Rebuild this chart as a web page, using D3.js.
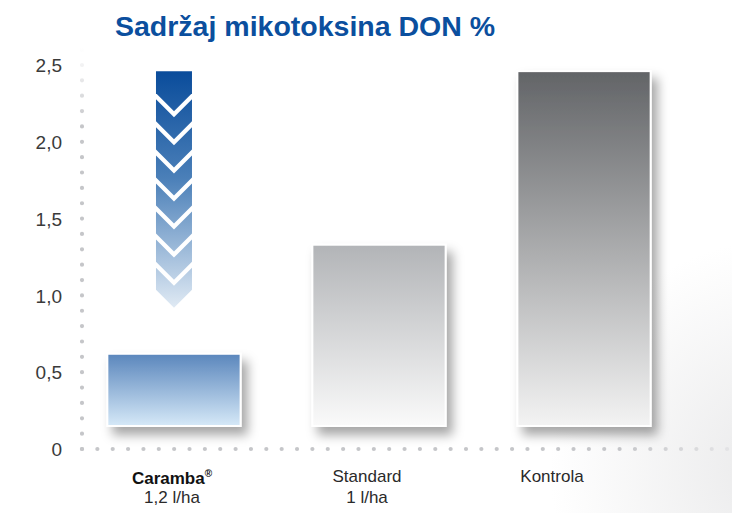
<!DOCTYPE html>
<html>
<head>
<meta charset="utf-8">
<script src="https://cdn.jsdelivr.net/npm/d3@7"></script>
<style>
  html, body { margin: 0; padding: 0; background: #fff; }
  svg { display: block; font-family: "Liberation Sans", Arial, sans-serif; }
</style>
</head>
<body>
<div id="chart"></div>
<script>
const categories = ["Caramba", "Standard", "Kontrola"];
const donValues = [0.62, 1.33, 2.46];
const labelLines = [["Caramba", "1,2 l/ha"], ["Standard", "1 l/ha"], ["Kontrola"]];
const yTicks = [0, 0.5, 1.0, 1.5, 2.0, 2.5];
const yTickLabels = ["0", "0,5", "1,0", "1,5", "2,0", "2,5"];
const barGradients = [
  ["#5a86bc", "#d6e9f8"],
  ["#b2b4b7", "#fafafa"],
  ["#626467", "#f3f3f3"]
];

const width = 732;
const height = 513;
const axisX = 82;
const barLift = 23;

const svg = d3.select("#chart")
  .append("svg")
  .attr("width", width)
  .attr("height", height);

const defs = svg.append("defs");

// soft grey corner in the bottom right
const bg = defs.append("radialGradient")
  .attr("id", "bgGrad")
  .attr("gradientUnits", "userSpaceOnUse")
  .attr("cx", 780).attr("cy", 470).attr("r", 230);
bg.append("stop").attr("offset", "0%").attr("stop-color", "#e9e9ea");
bg.append("stop").attr("offset", "100%").attr("stop-color", "#ffffff");
svg.append("rect").attr("width", width).attr("height", height).attr("fill", "url(#bgGrad)");

const shadow = defs.append("filter")
  .attr("id", "shadow")
  .attr("x", "-20%").attr("y", "-20%")
  .attr("width", "150%").attr("height", "150%");
shadow.append("feDropShadow")
  .attr("dx", 6).attr("dy", 8)
  .attr("stdDeviation", 5.5)
  .attr("flood-color", "#000")
  .attr("flood-opacity", 0.35);

barGradients.forEach((stops, i) => {
  const g = defs.append("linearGradient")
    .attr("id", `barGrad${i}`)
    .attr("x1", 0).attr("y1", 0).attr("x2", 0).attr("y2", 1);
  g.append("stop").attr("offset", "0%").attr("stop-color", stops[0]);
  g.append("stop").attr("offset", "100%").attr("stop-color", stops[1]);
});

const y = d3.scaleLinear()
  .domain([0, 2.5])
  .range([449, 65]);

const x = d3.scaleBand()
  .domain(categories)
  .range([93, 665])
  .paddingInner(0.35)
  .paddingOuter(0.07);

const labelX = d3.scalePoint()
  .domain(categories)
  .range([172, 552]);

// dotted axes
const dotStep = (y(0) - y(0.5)) / 5;

const vFade = defs.append("linearGradient")
  .attr("id", "vFade")
  .attr("gradientUnits", "userSpaceOnUse")
  .attr("x1", 0).attr("y1", 48).attr("x2", 0).attr("y2", 125);
vFade.append("stop").attr("offset", "0%").attr("stop-color", "#ffffff");
vFade.append("stop").attr("offset", "100%").attr("stop-color", "#c5c6c9");

const hFade = defs.append("linearGradient")
  .attr("id", "hFade")
  .attr("gradientUnits", "userSpaceOnUse")
  .attr("x1", 620).attr("y1", 0).attr("x2", 732).attr("y2", 0);
hFade.append("stop").attr("offset", "0%").attr("stop-color", "#c5c6c9");
hFade.append("stop").attr("offset", "100%").attr("stop-color", "#e4e4e6");

svg.append("path")
  .attr("d", `M${axisX},${y(0)}V46`)
  .attr("stroke", "url(#vFade)")
  .attr("stroke-width", 4.2)
  .attr("stroke-linecap", "round")
  .attr("stroke-dasharray", `0 ${dotStep}`)
  .attr("fill", "none");

svg.append("path")
  .attr("d", `M${axisX},${y(0)}H${width}`)
  .attr("stroke", "url(#hFade)")
  .attr("stroke-width", 4.2)
  .attr("stroke-linecap", "round")
  .attr("stroke-dasharray", `0 ${dotStep}`)
  .attr("fill", "none");

// y axis labels
const yAxis = svg.append("g")
  .attr("transform", `translate(62,0)`)
  .call(d3.axisLeft(y)
    .tickValues(yTicks)
    .tickSize(0)
    .tickPadding(0)
    .tickFormat((d, i) => yTickLabels[i]));
yAxis.select(".domain").remove();
yAxis.selectAll("text")
  .attr("font-family", "Liberation Sans, Arial, sans-serif")
  .attr("font-size", 19)
  .attr("fill", "#3a3a3a")
  .attr("dy", "0.35em");

// bars
const bars = svg.append("g");
bars.selectAll("rect")
  .data(donValues)
  .join("rect")
  .attr("x", (d, i) => x(categories[i]))
  .attr("y", (d) => y(d))
  .attr("width", x.bandwidth())
  .attr("height", (d) => y(0) - barLift - y(d))
  .attr("fill", (d, i) => `url(#barGrad${i})`)
  .attr("stroke", "#fff")
  .attr("stroke-width", 2)
  .attr("filter", "url(#shadow)");

// chevron arrow above the Caramba bar
const arrowTop = y(d3.max(donValues));
const arrowBottom = y(donValues[0]) - 46;
const nChev = 8;
const depth = 18;
const gap = 6;
const half = 18;
const cx = x(categories[0]) + x.bandwidth() / 2;
const h = (arrowBottom - arrowTop - depth - (nChev - 1) * gap) / nChev;

const arrowGrad = defs.append("linearGradient")
  .attr("id", "arrowGrad")
  .attr("gradientUnits", "userSpaceOnUse")
  .attr("x1", 0).attr("y1", arrowTop).attr("x2", 0).attr("y2", arrowBottom);
arrowGrad.append("stop").attr("offset", "0%").attr("stop-color", "#0a4c9b");
arrowGrad.append("stop").attr("offset", "45%").attr("stop-color", "#4a7fb8");
arrowGrad.append("stop").attr("offset", "100%").attr("stop-color", "#e0eaf4");

const chevrons = d3.range(nChev).map((i) => {
  const s = arrowTop + i * (h + gap);
  const L = cx - half, R = cx + half;
  if (i === 0) {
    return [[L, s], [R, s], [R, s + h], [cx, s + h + depth], [L, s + h]];
  }
  return [[L, s], [cx, s + depth], [R, s], [R, s + h], [cx, s + h + depth], [L, s + h]];
});

svg.append("g")
  .selectAll("path")
  .data(chevrons)
  .join("path")
  .attr("d", (pts) => d3.line()(pts) + "Z")
  .attr("fill", "url(#arrowGrad)");

// category labels
const labels = svg.append("g")
  .attr("font-size", 17)
  .attr("fill", "#2a2a2a")
  .attr("text-anchor", "middle");

labelLines.forEach((lines, i) => {
  const t = labels.append("text")
    .attr("x", labelX(categories[i]) + (i === 1 ? 5 : 0))
    .attr("y", i === 0 ? 484 : 482);
  lines.forEach((line, j) => {
    const span = t.append("tspan")
      .attr("x", labelX(categories[i]) + (i === 1 ? 5 : 0))
      .attr("dy", j === 0 ? 0 : (i === 0 ? 26 : 21));
    if (i === 0 && j === 0) {
      span.attr("font-weight", "bold").attr("fill", "#111").text(line);
      t.append("tspan").attr("font-size", 10).attr("dy", -7).attr("font-weight", "bold").attr("fill", "#111").text("®");
      t.append("tspan").attr("dy", 7).text("");
    } else {
      span.text(line);
    }
  });
});

// title
svg.append("text")
  .attr("x", 115)
  .attr("y", 36)
  .attr("font-size", 28.5)
  .attr("font-weight", "bold")
  .attr("fill", "#0b4f9e")
  .text("Sadržaj mikotoksina DON %");
</script>
</body>
</html>
